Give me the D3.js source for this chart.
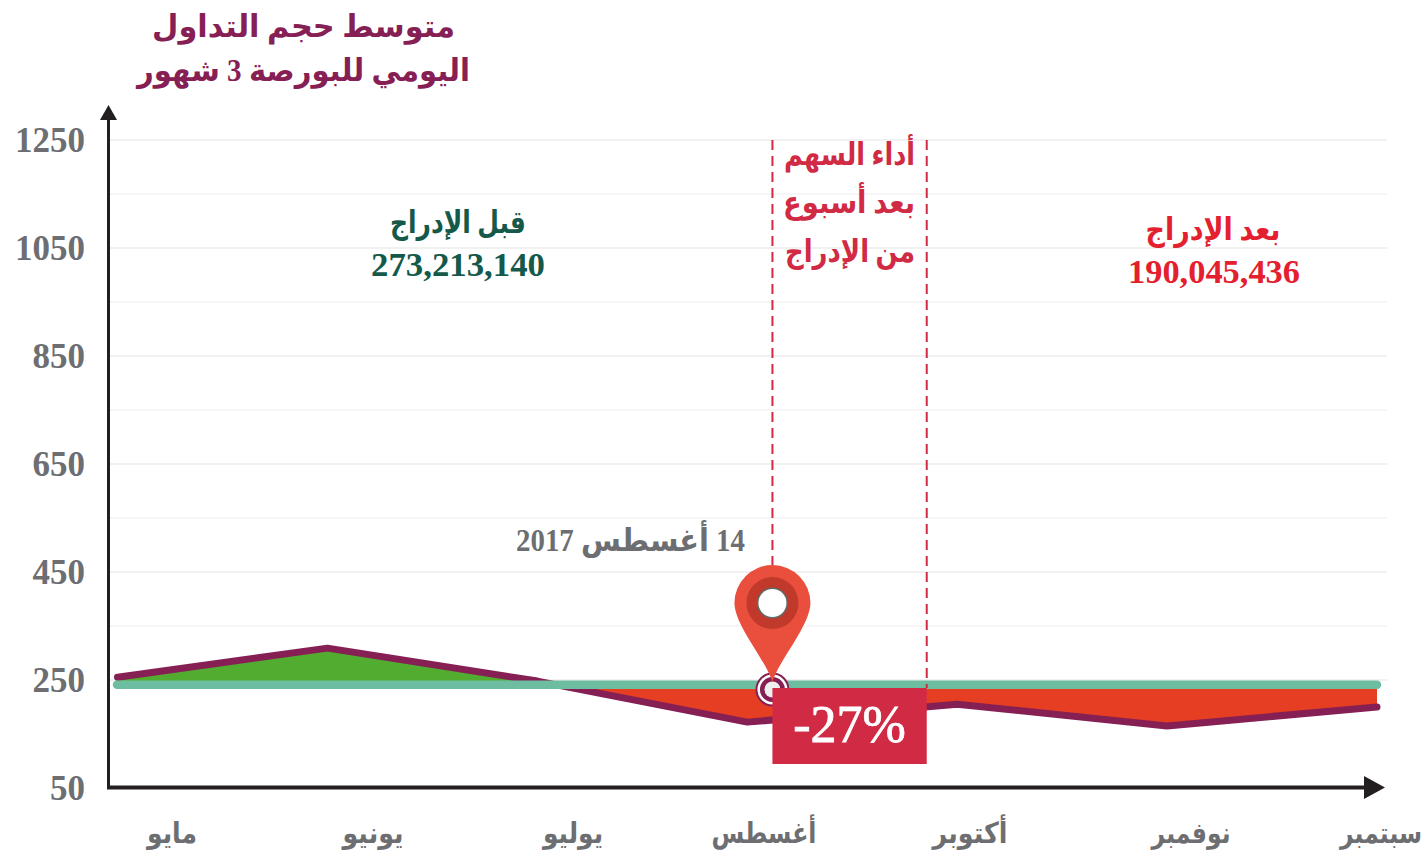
<!DOCTYPE html>
<html lang="ar">
<head>
<meta charset="utf-8">
<script src="https://cdn.jsdelivr.net/npm/d3@7/dist/d3.min.js"></script>
<style>
  html, body { margin: 0; padding: 0; background: #fff; overflow: hidden; }
  text { font-family: "Liberation Serif", "DejaVu Sans", serif; }
</style>
</head>
<body>
<svg id="chart" width="1427" height="854"></svg>
<script>
(function () {
  // values
  const months = ['مايو', 'يونيو', 'يوليو', 'أغسطس', 'أكتوبر', 'نوفمبر', 'سبتمبر'];
  const volumes = [255, 309, 248, 172, 205, 165, 200];
  const averageVolume = 241;
  const yTicks = [50, 250, 450, 650, 850, 1050, 1250];
  const minorTicks = [350, 550, 750, 950, 1150];
  const listingPosition = 3.12;
  const weekEndPosition = 3.855;

  const width = 1427;
  const height = 854;
  const gray = '#6d6e71';
  const plum = '#862054';
  const crimson = '#d12a44';

  const svg = d3.select('#chart');

  const xScale = d3.scaleLinear().domain([0, months.length - 1]).range([117.5, 1377]);
  const yScale = d3.scaleLinear().domain([50, 1250]).range([788, 140]);
  const labelScale = d3.scaleOrdinal().domain(months).range([172, 373, 573, 764, 970, 1191, 1381]);

  // squeeze or stretch a text so that it fills the same width as in the picture
  const fitText = (selection, cx, baseline, targetWidth) => {
    const measured = selection.node().getComputedTextLength() || targetWidth;
    selection.attr('transform', `translate(${cx},${baseline}) scale(${targetWidth / measured},1)`);
  };

  const addText = (label, cx, baseline, targetWidth, options) => {
    const node = svg.append('text')
      .attr('text-anchor', 'middle')
      .attr('direction', 'rtl')
      .attr('fill', options.color)
      .attr('font-size', options.size)
      .attr('font-weight', 'bold')
      .text(label);
    fitText(node, cx, baseline, targetWidth);
    return node;
  };

  // grid
  svg.append('g')
    .selectAll('line')
    .data(minorTicks)
    .join('line')
    .attr('x1', 110)
    .attr('x2', 1387)
    .attr('y1', (d) => yScale(d))
    .attr('y2', (d) => yScale(d))
    .attr('stroke', '#f3f3f3')
    .attr('stroke-width', 1.5);

  svg.append('g')
    .selectAll('line')
    .data(yTicks.filter((d) => d > 50))
    .join('line')
    .attr('x1', 110)
    .attr('x2', 1387)
    .attr('y1', (d) => yScale(d))
    .attr('y2', (d) => yScale(d))
    .attr('stroke', '#ececec')
    .attr('stroke-width', 1.5);

  // y labels
  const yAxis = d3.axisLeft(yScale).tickValues(yTicks).tickSize(0).tickPadding(23).tickFormat(d3.format('d'));
  const yAxisGroup = svg.append('g').attr('transform', 'translate(108,0)').call(yAxis);
  yAxisGroup.select('.domain').remove();
  yAxisGroup.selectAll('text')
    .attr('font-family', '"Liberation Serif", serif')
    .attr('font-size', 35)
    .attr('font-weight', 'bold')
    .attr('fill', gray);

  // difference fills, split at the average line
  const avgY = yScale(averageVolume);
  const defs = svg.append('defs');
  defs.append('clipPath').attr('id', 'aboveAverage')
    .append('rect').attr('x', 0).attr('y', 0).attr('width', width).attr('height', avgY);
  defs.append('clipPath').attr('id', 'belowAverage')
    .append('rect').attr('x', 0).attr('y', avgY).attr('width', width).attr('height', height - avgY);

  const diffArea = d3.area()
    .x((d, i) => xScale(i))
    .y0(avgY)
    .y1((d) => yScale(d));

  svg.append('path').datum(volumes)
    .attr('clip-path', 'url(#aboveAverage)')
    .attr('fill', '#52ac30')
    .attr('d', diffArea);

  svg.append('path').datum(volumes)
    .attr('clip-path', 'url(#belowAverage)')
    .attr('fill', '#e63e22')
    .attr('d', diffArea);

  const volumeLine = d3.line()
    .x((d, i) => xScale(i))
    .y((d) => yScale(d));

  svg.append('path').datum(volumes)
    .attr('fill', 'none')
    .attr('stroke', plum)
    .attr('stroke-width', 7)
    .attr('stroke-linecap', 'round')
    .attr('stroke-linejoin', 'round')
    .attr('d', volumeLine);

  svg.append('line')
    .attr('x1', xScale(0) - 0.5)
    .attr('x2', xScale(months.length - 1))
    .attr('y1', avgY)
    .attr('y2', avgY)
    .attr('stroke', '#6dbda0')
    .attr('stroke-width', 8.5)
    .attr('stroke-linecap', 'round');

  // the week after listing
  const listingX = xScale(listingPosition);
  const weekEndX = xScale(weekEndPosition);

  svg.append('g')
    .selectAll('line')
    .data([listingX, weekEndX])
    .join('line')
    .attr('x1', (d) => d)
    .attr('x2', (d) => d)
    .attr('y1', 140)
    .attr('y2', 688)
    .attr('stroke', crimson)
    .attr('stroke-width', 2)
    .attr('stroke-dasharray', '10 6');

  // marker on the average line
  const marker = svg.append('g').attr('transform', `translate(${listingX},689.5)`);
  marker.append('circle').attr('r', 17).attr('fill', plum);
  marker.append('circle').attr('r', 15).attr('fill', '#fff');
  marker.append('circle').attr('r', 12.5).attr('fill', plum);
  marker.append('circle').attr('r', 8).attr('fill', '#eef0ef');

  svg.append('rect')
    .attr('x', listingX)
    .attr('y', 688)
    .attr('width', weekEndX - listingX)
    .attr('height', 76)
    .attr('fill', crimson);

  svg.append('text')
    .attr('x', (listingX + weekEndX) / 2)
    .attr('y', 742)
    .attr('text-anchor', 'middle')
    .attr('font-size', 52)
    .attr('fill', '#fff')
    .attr('stroke', '#fff')
    .attr('stroke-width', 0.8)
    .text('-27%');

  // pin
  const pin = svg.append('g').attr('transform', `translate(${listingX},603)`);
  pin.append('path')
    .attr('d', 'M0,79 C-6,58 -38,22 -38,0 A38,38 0 0 1 38,0 C38,22 6,58 0,79 Z')
    .attr('fill', '#ea4f3d');
  pin.append('circle').attr('r', 26).attr('fill', '#c0392b');
  pin.append('circle').attr('r', 15.5).attr('fill', '#5f6b68');
  pin.append('circle').attr('r', 14).attr('fill', '#fff');

  // axes
  svg.append('line')
    .attr('x1', 108.5).attr('x2', 108.5).attr('y1', 116).attr('y2', 789)
    .attr('stroke', '#231f20').attr('stroke-width', 3);
  svg.append('path')
    .attr('d', 'M108.5,105 L117,120 L100,120 Z')
    .attr('fill', '#231f20');
  svg.append('line')
    .attr('x1', 107).attr('x2', 1370).attr('y1', 787.5).attr('y2', 787.5)
    .attr('stroke', '#231f20').attr('stroke-width', 4);
  svg.append('path')
    .attr('d', 'M1385,787.5 L1364,776 L1364,799 Z')
    .attr('fill', '#231f20');

  // month labels
  const monthWidths = [50, 61, 60, 105, 75, 79, 82];
  months.forEach((month, i) => {
    addText(month, labelScale(month), 843, monthWidths[i], { color: gray, size: 29 });
  });

  // titles and notes
  addText('متوسط حجم التداول', 303.5, 37, 303, { color: plum, size: 31 });
  addText('اليومي للبورصة 3 شهور', 303.5, 81, 333, { color: plum, size: 31 });

  addText('قبل الإدراج', 458, 233, 136, { color: '#14594a', size: 31 });
  addText('273,213,140', 458, 276, 174, { color: '#14594a', size: 33 });

  addText('بعد الإدراج', 1213, 240, 135, { color: '#e5202e', size: 31 });
  addText('190,045,436', 1214, 283, 172, { color: '#e5202e', size: 33 });

  addText('أداء السهم', 849.5, 165, 131, { color: crimson, size: 31 });
  addText('بعد أسبوع', 849, 213, 132, { color: crimson, size: 31 });
  addText('من الإدراج', 850, 262, 130, { color: crimson, size: 31 });

  addText('14 أغسطس 2017', 630.5, 551, 229, { color: gray, size: 31 });
})();
</script>
</body>
</html>
